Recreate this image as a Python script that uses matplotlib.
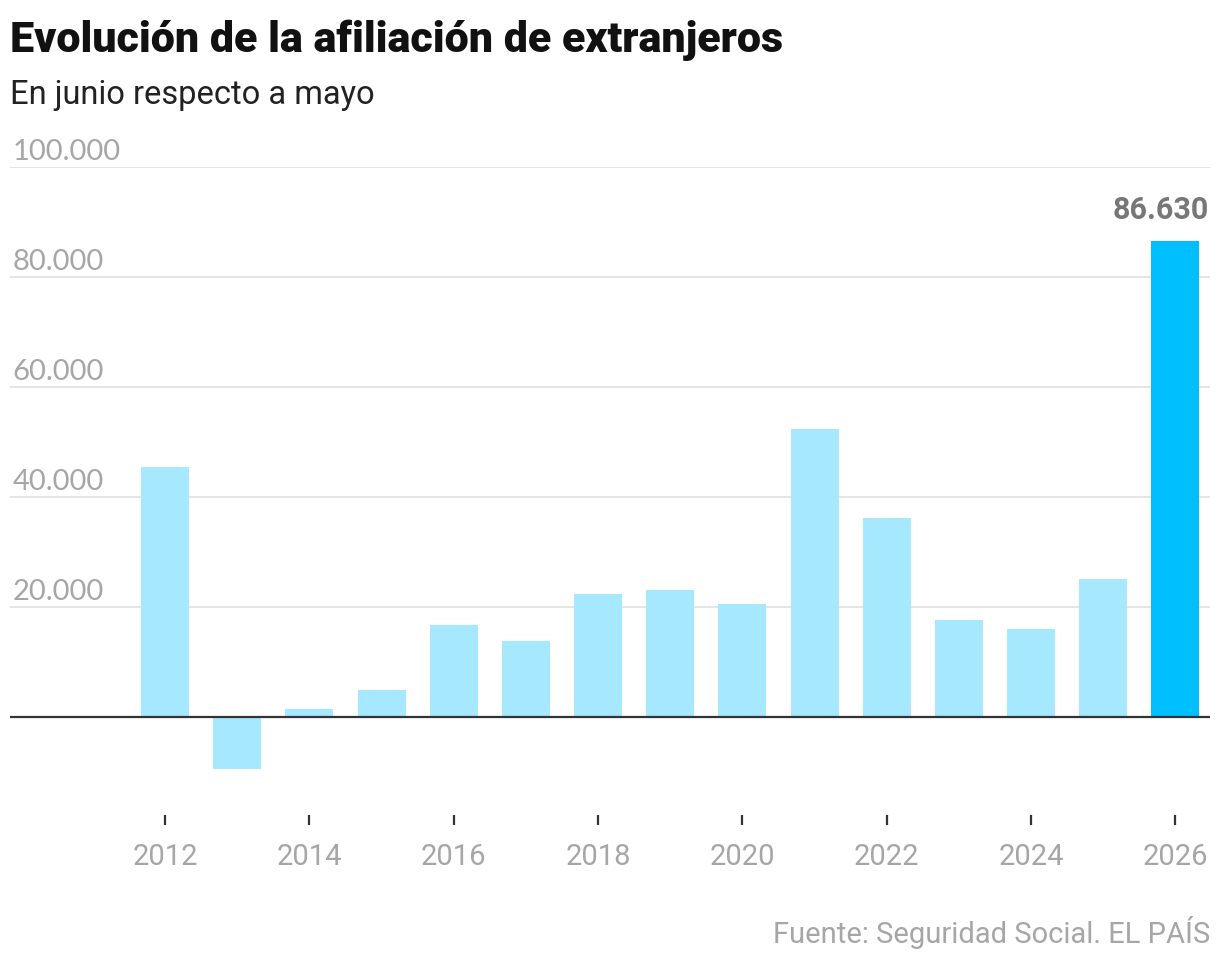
import matplotlib.pyplot as plt
from matplotlib import transforms

years = list(range(2012, 2027))
values = [45500, -9500, 1400, 4900, 16700, 13800, 22400, 23100, 20500,
          52400, 36200, 17600, 16000, 25100, 86630]
y_ticks = [20000, 40000, 60000, 80000, 100000]
y_tick_labels = ['20.000', '40.000', '60.000', '80.000', '100.000']
x_ticks = [2012, 2014, 2016, 2018, 2020, 2022, 2024, 2026]

light = '#a6e8fe'
highlight = '#00bfff'
colors = [light] * (len(years) - 1) + [highlight]

W, H = 1220, 962
fig = plt.figure(figsize=(W / 100, H / 100), dpi=100)
ax = fig.add_axes([10 / W, 1 - 816 / H, 1200 / W, (816 - 168) / H])

ax.bar(years, values, width=0.665, color=colors, zorder=2)
ax.set_xlim(2009.853, 2026.478)
ax.set_ylim(-17818, 100000)

for s in ax.spines.values():
    s.set_visible(False)

# gridlines + labels sitting on them
for v, lab in zip(y_ticks, y_tick_labels):
    ax.axhline(v, color='#e3e3e3', lw=1.3, zorder=1)
    off = transforms.offset_copy(ax.get_yaxis_transform(), fig=fig, x=2, y=5.5, units='points')
    ax.text(0, v, lab, transform=off, ha='left', va='baseline',
            fontsize=21, color='#a6a6a6', family='Lato')
ax.axhline(0, color='#333333', lw=1.6, zorder=3)

ax.set_yticks([])
ax.set_xticks(x_ticks)
ax.set_xticklabels([str(x) for x in x_ticks])
ax.tick_params(axis='x', length=7.2, width=1.6, color='#333333', pad=12,
               labelsize=21, labelcolor='#a6a6a6')
for t in ax.get_xticklabels():
    t.set_family('Roboto')

ax.text(years[-1] + 0.46, values[-1] + 3000, '86.630', ha='right', va='bottom',
        fontsize=22, fontweight='bold', color='#777777', family='Roboto')

fig.text(10 / W, 1 - 40 / H, 'Evolución de la afiliación de extranjeros',
         ha='left', va='center', fontsize=31, fontweight='heavy', color='#111111',
         family='Roboto')
fig.text(10 / W, 1 - 95 / H, 'En junio respecto a mayo', ha='left', va='center',
         fontsize=23.5, color='#222222', family='Roboto')
fig.text(1210 / W, 1 - 933 / H, 'Fuente: Seguridad Social. EL PAÍS', ha='right',
         va='center', fontsize=21, color='#a6a6a6', family='Roboto')

fig.savefig('out.png', dpi=100)
